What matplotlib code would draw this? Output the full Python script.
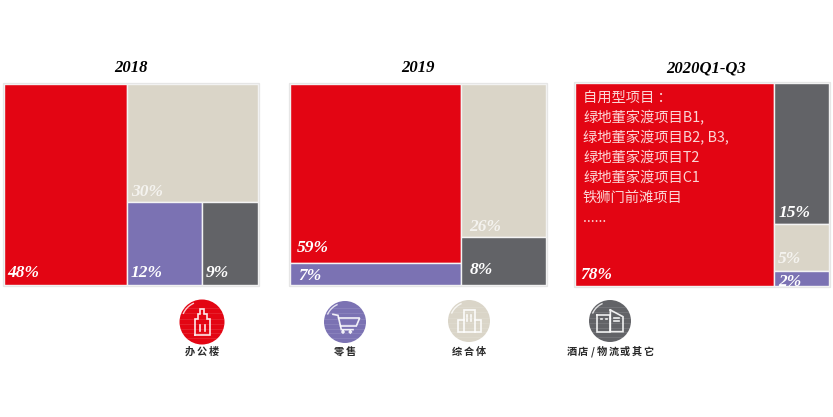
import matplotlib
matplotlib.use("Agg")
import matplotlib.pyplot as plt
from matplotlib.patches import Rectangle, Circle
import numpy as np

FONT_CJK = ['Noto Sans CJK SC', 'DejaVu Sans']
FONT_NUM = 'Liberation Serif'

categories = ['办公楼', '零售', '综合体', '酒店/物流或其它']
colors = ['#e30513', '#7b72b3', '#dad5c8', '#626367']
periods = ['2018', '2019', '2020Q1-Q3']
# printed labels are rounded, the areas show a bit more than that
shares_2018 = [48, 12, 30, 9]
shares_2019 = [59.4, 7.4, 25.5, 7.9]
shares_2020 = [78.4, 1.6, 5.0, 15.0]
project_lines = ['自用型项目 ：', '绿地董家渡项目B1,', '绿地董家渡项目B2, B3,', '绿地董家渡项目T2',
                 '绿地董家渡项目C1', '铁狮门前滩项目', '......']

# how each treemap is split: 'h' side by side, 'v' stacked, ints are category indexes
trees = [('h', [0, ('v', [2, ('h', [1, 3])])]),
         ('h', [('v', [0, 1]), ('v', [2, 3])]),
         ('h', [0, ('v', [3, 2, 1])])]
boxes = [(4, 84, 254, 201), (290, 84, 256, 201), (575, 83, 254, 203)]
title_pos = [(131, 67.5), (418, 67.5), (706, 68.5)]
# label offset from the lower left corner of each rectangle (px), same order as categories
label_off = [[(3, 8), (3, 8), (4, 6.5), (4, 8)],
             [(7, 10.5), (8, 5), (9, 6.5), (9, 11)],
             [(5, 7), (4, 0), (4, 8), (4, 7)]]

icon_pos = [(202, 322, 22.5), (345, 322, 21), (469, 321, 21), (610, 321, 21)]
label_y = 352


def weight(node, vals):
    if isinstance(node, int):
        return vals[node]
    return sum(weight(n, vals) for n in node[1])


def layout(node, box, vals, out):
    x, y, w, h = box
    if isinstance(node, int):
        out[node] = box
        return
    total = weight(node, vals)
    for n in node[1]:
        f = weight(n, vals) / total
        if node[0] == 'h':
            layout(n, (x, y, w * f, h), vals, out)
            x += w * f
        else:
            layout(n, (x, y, w, h * f), vals, out)
            y += h * f


def icon_lines(ax, cx, cy, paths, lw=1.2):
    for p in paths:
        p = np.array(p, dtype=float) / 3
        ax.plot(cx + p[:, 0], cy + p[:, 1], color='white', lw=lw, alpha=0.9, solid_joinstyle='miter', zorder=5)


building = [[(-22, 38), (-22, -10), (-13, -10), (-13, -25), (-5, -25), (-5, -40), (7, -40), (7, -25),
             (15, -25), (15, -10), (25, -10), (25, 38), (-22, 38)],
            [(-5, 8), (-5, 27)], [(8, 8), (8, 27)]]
cart = [[(-36, -23), (-21, -20), (-11, 23), (24, 23)],
        [(-19, -12), (44, -12), (34, 12), (-13, 12)],
        [(-6, 27), (-3, 30), (-6, 33), (-9, 30), (-6, 27)],
        [(16, 27), (19, 30), (16, 33), (13, 30), (16, 27)]]
tower = [[(-15, 34), (-15, -33), (17, -33), (17, 34)],
         [(-15, -3), (-33, -3), (-33, 34), (35, 34), (35, -3), (17, -3)],
         [(-5, -18), (-5, -12)], [(6, -18), (6, -12)], [(-5, -5), (-5, 1)], [(6, -5), (6, 1)]]
hotel = [[(-39, -18), (1, -18), (1, 32), (-39, 32), (-39, -18)],
         [(1, -33), (39, -13), (39, 32), (1, 32), (1, -33)],
         [(-28, -6), (-23, -6)], [(-13, -6), (-8, -6)],
         [(12, -8), (28, -8)], [(12, 1), (28, 1)]]
icons = [building, cart, tower, hotel]
stripe_y = [-14, -9, -3, 2, 7, 11, 16]

fig = plt.figure(figsize=(8.33, 4.17), dpi=100)
ax = fig.add_axes([0, 0, 1, 1])
ax.set_xlim(0, 833)
ax.set_ylim(417, 0)
ax.axis('off')

for i, vals in enumerate([shares_2018, shares_2019, shares_2020]):
    rects = {}
    layout(trees[i], boxes[i], vals, rects)
    bx, by, bw, bh = boxes[i]
    ax.add_patch(Rectangle((bx - 0.6, by - 0.6), bw + 1.2, bh + 1.2, fc='none', ec='#e6e6e6', lw=0.9, zorder=3))
    for c, (x, y, w, h) in rects.items():
        r = Rectangle((x, y), w, h, fc=colors[c], ec='#f4f4f4', lw=1.0, zorder=2)
        ax.add_patch(r)
        dx, dy = label_off[i][c]
        light = colors[c] == '#dad5c8'
        t = ax.text(x + dx, y + h - dy, f'{round(vals[c])}%', fontfamily=FONT_NUM, fontsize=12.5, fontweight='bold',
                    fontstyle='italic', color='white', alpha=0.72 if light else 1, ha='left', va='baseline', zorder=4)
        t.set_clip_path(r)
    ax.text(title_pos[i][0], title_pos[i][1], periods[i], fontfamily=FONT_NUM, fontsize=12, fontweight='bold',
            fontstyle='italic', color='black', ha='center', va='center')

for k, line in enumerate(project_lines):
    ax.text(583, 97.5 + k * 20.1, line, fontfamily=FONT_CJK, fontsize=10.3, color='#fbd5d5', ha='left', va='center',
            fontweight='light', zorder=5)

for c, (cx, cy, rad) in enumerate(icon_pos):
    disc = Circle((cx, cy), rad, fc=colors[c], ec='none', zorder=3)
    ax.add_patch(disc)
    for sy in stripe_y:
        ln, = ax.plot([cx - rad, cx + rad], [cy + sy, cy + sy], color='white', lw=0.7, alpha=0.11, zorder=4)
        ln.set_clip_path(disc)
    a = np.radians(np.linspace(205, 245, 20))
    ax.plot(cx + (rad - 2) * np.cos(a), cy + (rad - 2) * np.sin(a), color='white', lw=1.0, alpha=0.8, zorder=5)
    icon_lines(ax, cx, cy, icons[c])
    # labels are letter spaced in the original, the slash takes less room
    chars = categories[c]
    steps = [6.5 if ch == '/' else 11.8 for ch in chars]
    width = sum(steps)
    xpos = cx - width / 2
    for ch, st in zip(chars, steps):
        ax.text(xpos + st / 2, label_y, ch, fontfamily=FONT_CJK, fontsize=7.3, fontweight='bold',
                color='#2a2a2a', ha='center', va='center')
        xpos += st

fig.savefig('out.png', dpi=100, facecolor='white')
